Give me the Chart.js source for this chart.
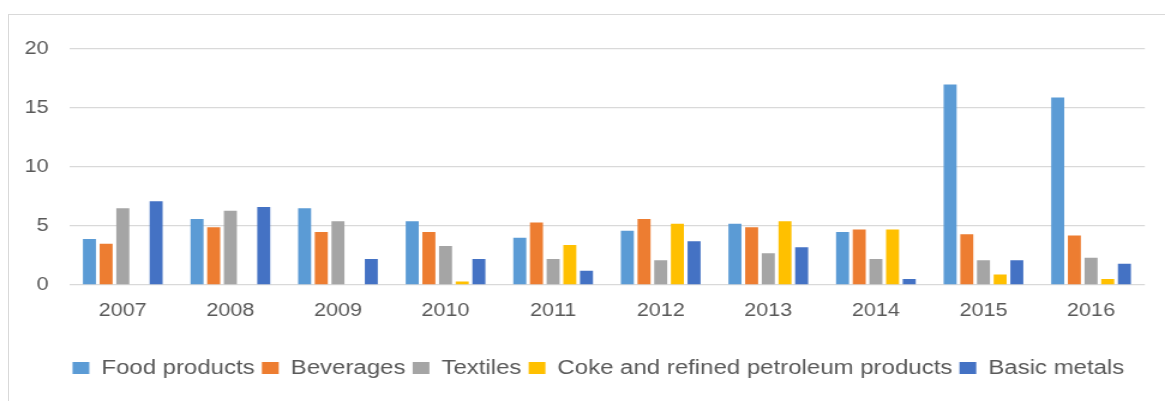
<!DOCTYPE html>
<html>
<head>
<meta charset="utf-8">
<script src="https://cdn.jsdelivr.net/npm/chart.js@4/dist/chart.umd.min.js"></script>
<style>
  html, body { margin: 0; padding: 0; background: #ffffff; overflow: hidden; width: 1165px; height: 401px; }
  #frame { position: absolute; left: 8px; top: 14px; width: 2000px; height: 1000px; border: 1px solid #d9d9d9; box-sizing: border-box; }
  #c { position: absolute; left: 0; top: 0; display: block; }
</style>
</head>
<body>
<div id="frame"></div>
<canvas id="c" width="971" height="401" style="width:1165px;height:401px;"></canvas>
<script>
const categories = ["2007", "2008", "2009", "2010", "2011", "2012", "2013", "2014", "2015", "2016"];
const foodProducts = [3.9, 5.6, 6.5, 5.4, 4.0, 4.6, 5.2, 4.5, 17.0, 15.9];
const beverages    = [3.5, 4.9, 4.5, 4.5, 5.3, 5.6, 4.9, 4.7, 4.3, 4.2];
const textiles     = [6.5, 6.3, 5.4, 3.3, 2.2, 2.1, 2.7, 2.2, 2.1, 2.3];
const cokePetroleum = [null, null, null, 0.3, 3.4, 5.2, 5.4, 4.7, 0.9, 0.5];
const basicMetals  = [7.1, 6.6, 2.2, 2.2, 1.2, 3.7, 3.2, 0.5, 2.1, 1.8];
const yTicks = [0, 5, 10, 15, 20];

const seriesNames = ["Food products", "Beverages", "Textiles", "Coke and refined petroleum products", "Basic metals"];
const seriesData = [foodProducts, beverages, textiles, cokePetroleum, basicMetals];
const seriesColors = ["#5B9BD5", "#ED7D31", "#A5A5A5", "#FFC000", "#4472C4"];

const FONT = "'Liberation Sans', Arial, Helvetica, sans-serif";
const TEXT = "#595959";

// Center the legend under the plot area plus the y-axis label column
const legendShift = {
  id: "legendShift",
  afterLayout(chart) {
    const lg = chart.legend;
    if (!lg) return;
    lg.left = chart.chartArea.left - 14.2;
    lg.right = chart.chartArea.right;
  }
};

new Chart(document.getElementById("c"), {
  type: "bar",
  data: {
    labels: categories,
    datasets: seriesNames.map((name, i) => ({
      label: name,
      data: seriesData[i],
      backgroundColor: seriesColors[i],
      borderWidth: 0,
      categoryPercentage: 0.775,
      barPercentage: 0.78
    }))
  },
  options: {
    responsive: false,
    animation: false,
    devicePixelRatio: 1,
    layout: { padding: { top: 49, left: 9.5, right: 16.8, bottom: 13 } },
    plugins: {
      tooltip: { enabled: false },
      legend: {
        position: "bottom",
        labels: {
          boxWidth: 14,
          boxHeight: 12,
          padding: 6,
          color: TEXT,
          font: { family: FONT, size: 20 }
        }
      }
    },
    scales: {
      x: {
        grid: { display: false, drawTicks: false },
        border: { display: false },
        ticks: { color: TEXT, padding: 15, font: { family: FONT, size: 18 }, maxRotation: 0 },
        afterFit: (s) => { s.height = 67; }
      },
      y: {
        min: 0,
        max: 20,
        afterBuildTicks: (s) => { s.ticks = yTicks.map(v => ({ value: v })); },
        grid: { color: "#d9d9d9", lineWidth: 1.3, drawTicks: false },
        border: { display: false },
        ticks: { color: TEXT, padding: 17, font: { family: FONT, size: 18 } },
        afterFit: (s) => { s.width = 48; }
      }
    }
  },
  plugins: [legendShift]
});
</script>
</body>
</html>
